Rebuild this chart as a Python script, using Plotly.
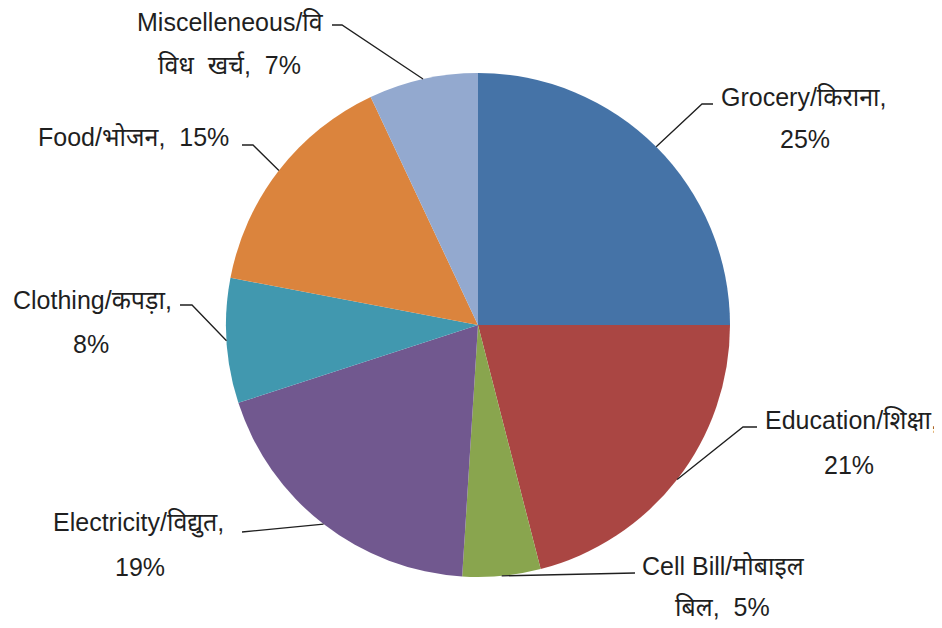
import math
import plotly.graph_objects as go

# ---- data ----
categories = ["Grocery/किराना", "Education/शिक्षा", "Cell Bill/मोबाइल बिल",
              "Electricity/विद्युत", "Clothing/कपड़ा", "Food/भोजन", "Miscelleneous/विविध खर्च"]
values = [25, 21, 5, 19, 8, 15, 7]
colors = ["#4573A7", "#AA4643", "#89A54E", "#71588F", "#4198AF", "#DB843D", "#93A9CF"]

# label text lines (as shown on chart)
label_lines = [
    ["Grocery/किराना,", "25%"],
    ["Education/शिक्षा,", "21%"],
    ["Cell Bill/मोबाइल", "बिल,  5%"],
    ["Electricity/विद्युत,", "19%"],
    ["Clothing/कपड़ा,", "8%"],
    ["Food/भोजन,  15%"],
    ["Miscelleneous/वि", "विध  खर्च,  7%"],
]

W, H = 942, 628
OFF = 8  # page body margin offset
CX, CY, R = 478, 325, 252  # pie centre / radius in screen pixels (layout)

# label placement (screen-pixel centres of each text line) and leader-line knee points
label_pos = [
    [(804, 97), (805, 139)],
    [(851, 420), (849, 465)],
    [(723, 566), (722, 607)],
    [(138, 523), (140, 567)],
    [(92, 300), (91, 344)],
    [(133, 137)],
    [(230, 22), (229, 65)],
]
leader_pts = [
    [(713, 104), (702, 104)],
    [(757, 427), (743, 427)],
    [(635, 573)],
    [(242, 532)],
    [(180, 305), (192, 305)],
    [(242, 145), (253, 145)],
    [(332, 25), (342, 25)],
]


def px(x, y):
    return (x - OFF) / W, 1 - (y - OFF) / H


x0, y1 = px(CX - R, CY - R)
x1, y0 = px(CX + R, CY + R)

fig = go.Figure(go.Pie(
    labels=categories, values=values, sort=False, direction="clockwise", rotation=0,
    marker=dict(colors=colors, line=dict(width=0)),
    textinfo="none", hoverinfo="label+percent", showlegend=False,
    domain=dict(x=[x0, x1], y=[y0, y1]),
))

annotations = []
shapes = []
total = sum(values)
cum = 0
for i, v in enumerate(values):
    mid = (cum + v / 2) / total * 2 * math.pi
    cum += v
    ex, ey = CX + R * math.sin(mid), CY - R * math.cos(mid)
    for txt, (lx, ly) in zip(label_lines[i], label_pos[i]):
        x, y = px(lx, ly)
        annotations.append(dict(x=x, y=y, xref="paper", yref="paper", text=txt,
                                showarrow=False, xanchor="center", yanchor="middle",
                                font=dict(family="Liberation Sans, Noto Sans", size=25, color="#1f1f1f")))
    pts = leader_pts[i] + [(ex, ey)]
    path = "M " + " L ".join(f"{px(a, b)[0]:.5f},{px(a, b)[1]:.5f}" for a, b in pts)
    shapes.append(dict(type="path", path=path, xref="paper", yref="paper",
                       line=dict(color="#1f1f1f", width=1.3)))

fig.update_layout(
    width=W, height=H, margin=dict(l=0, r=0, t=0, b=0),
    paper_bgcolor="white", plot_bgcolor="white",
    annotations=annotations, shapes=shapes,
)

fig.write_html("out.html")
